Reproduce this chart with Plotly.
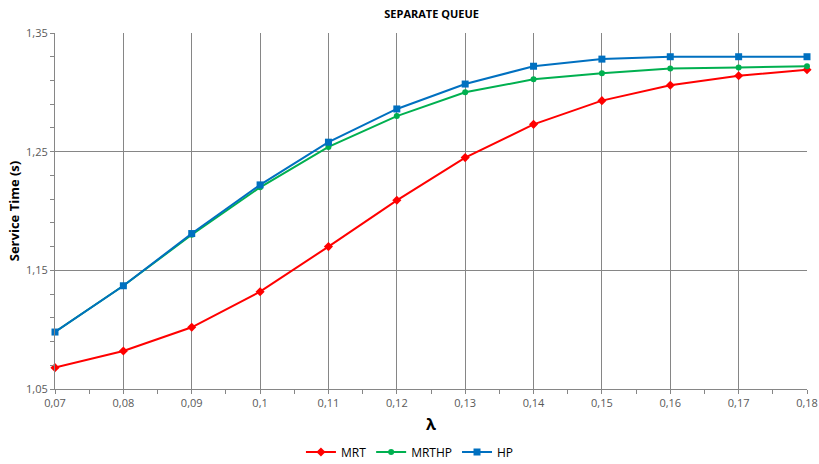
"""
Separate queue - service time vs arrival rate.
"""

import plotly.graph_objects as go


# ==========================================================
# Data
# ==========================================================

lam = [0.07, 0.08, 0.09, 0.10, 0.11, 0.12, 0.13, 0.14, 0.15, 0.16, 0.17, 0.18]

mrt = [1.068, 1.082, 1.102, 1.132, 1.170, 1.209, 1.245, 1.273, 1.293, 1.306, 1.314, 1.319]

mrthp = [1.098, 1.137, 1.180, 1.220, 1.254, 1.280, 1.300, 1.311, 1.316, 1.320, 1.321, 1.322]

hp = [1.098, 1.137, 1.181, 1.222, 1.258, 1.286, 1.307, 1.322, 1.328, 1.330, 1.330, 1.330]

series_names = ["MRT", "MRTHP", "HP"]


# ==========================================================
# Figure
# ==========================================================

styles = [
    ("#ff0000", "diamond", 7),
    ("#00b050", "circle", 6),
    ("#0070c0", "square", 7),
]

fig = go.Figure()

for name, values, (color, symbol, size) in zip(series_names, [mrt, mrthp, hp], styles):

    fig.add_trace(

        go.Scatter(

            x=lam,

            y=values,

            mode="lines+markers",

            name=name,

            line=dict(color=color, width=2),

            marker=dict(color=color, symbol=symbol, size=size),

            cliponaxis=False,

        )

    )

axis_common = dict(
    showline=True,
    linecolor="#868686",
    linewidth=1,
    showgrid=True,
    gridcolor="#868686",
    gridwidth=1,
    ticks="outside",
    ticklen=4,
    tickcolor="#868686",
    tickfont=dict(family="Open Sans", size=11, color="#595959"),
    zeroline=False,
    automargin=False,
)

fig.update_layout(

    title=dict(
        text="<b>SEPARATE QUEUE</b>",
        x=0.527,
        xanchor="center",
        y=0.969,
        yanchor="middle",
        font=dict(family="Open Sans", size=11, color="black"),
    ),

    width=819,
    height=464,

    separators=",.",

    paper_bgcolor="white",
    plot_bgcolor="white",

    font=dict(family="Open Sans", color="black"),

    margin=dict(l=55, r=12, t=33, b=75),

    xaxis=dict(
        **axis_common,
        range=[0.07, 0.18],
        tick0=0.07,
        dtick=0.01,
        minor=dict(ticks="outside", ticklen=4, tickcolor="#868686", dtick=0.005, tick0=0.07, showgrid=False),
        title=dict(text="<b>λ</b>", font=dict(family="Open Sans", size=16), standoff=9),
    ),

    yaxis=dict(
        **axis_common,
        range=[1.05, 1.35],
        tick0=1.05,
        dtick=0.1,
        minor=dict(ticks="outside", ticklen=4, tickcolor="#868686", dtick=0.02, tick0=1.05, showgrid=False),
        title=dict(text="<b>Service Time (s)</b>", font=dict(family="Open Sans", size=13), standoff=3),
    ),

    legend=dict(
        orientation="h",
        x=0.472,
        xanchor="center",
        yref="container",
        y=0.026,
        yanchor="middle",
        font=dict(family="Open Sans", size=12),
        itemwidth=30,
    ),

    showlegend=True,

)

# drop the default 8px page margin so the figure fills the window
fig.write_html(
    "out.html",
    config={"displayModeBar": False},
    post_script="document.body.style.margin = '0';",
)
